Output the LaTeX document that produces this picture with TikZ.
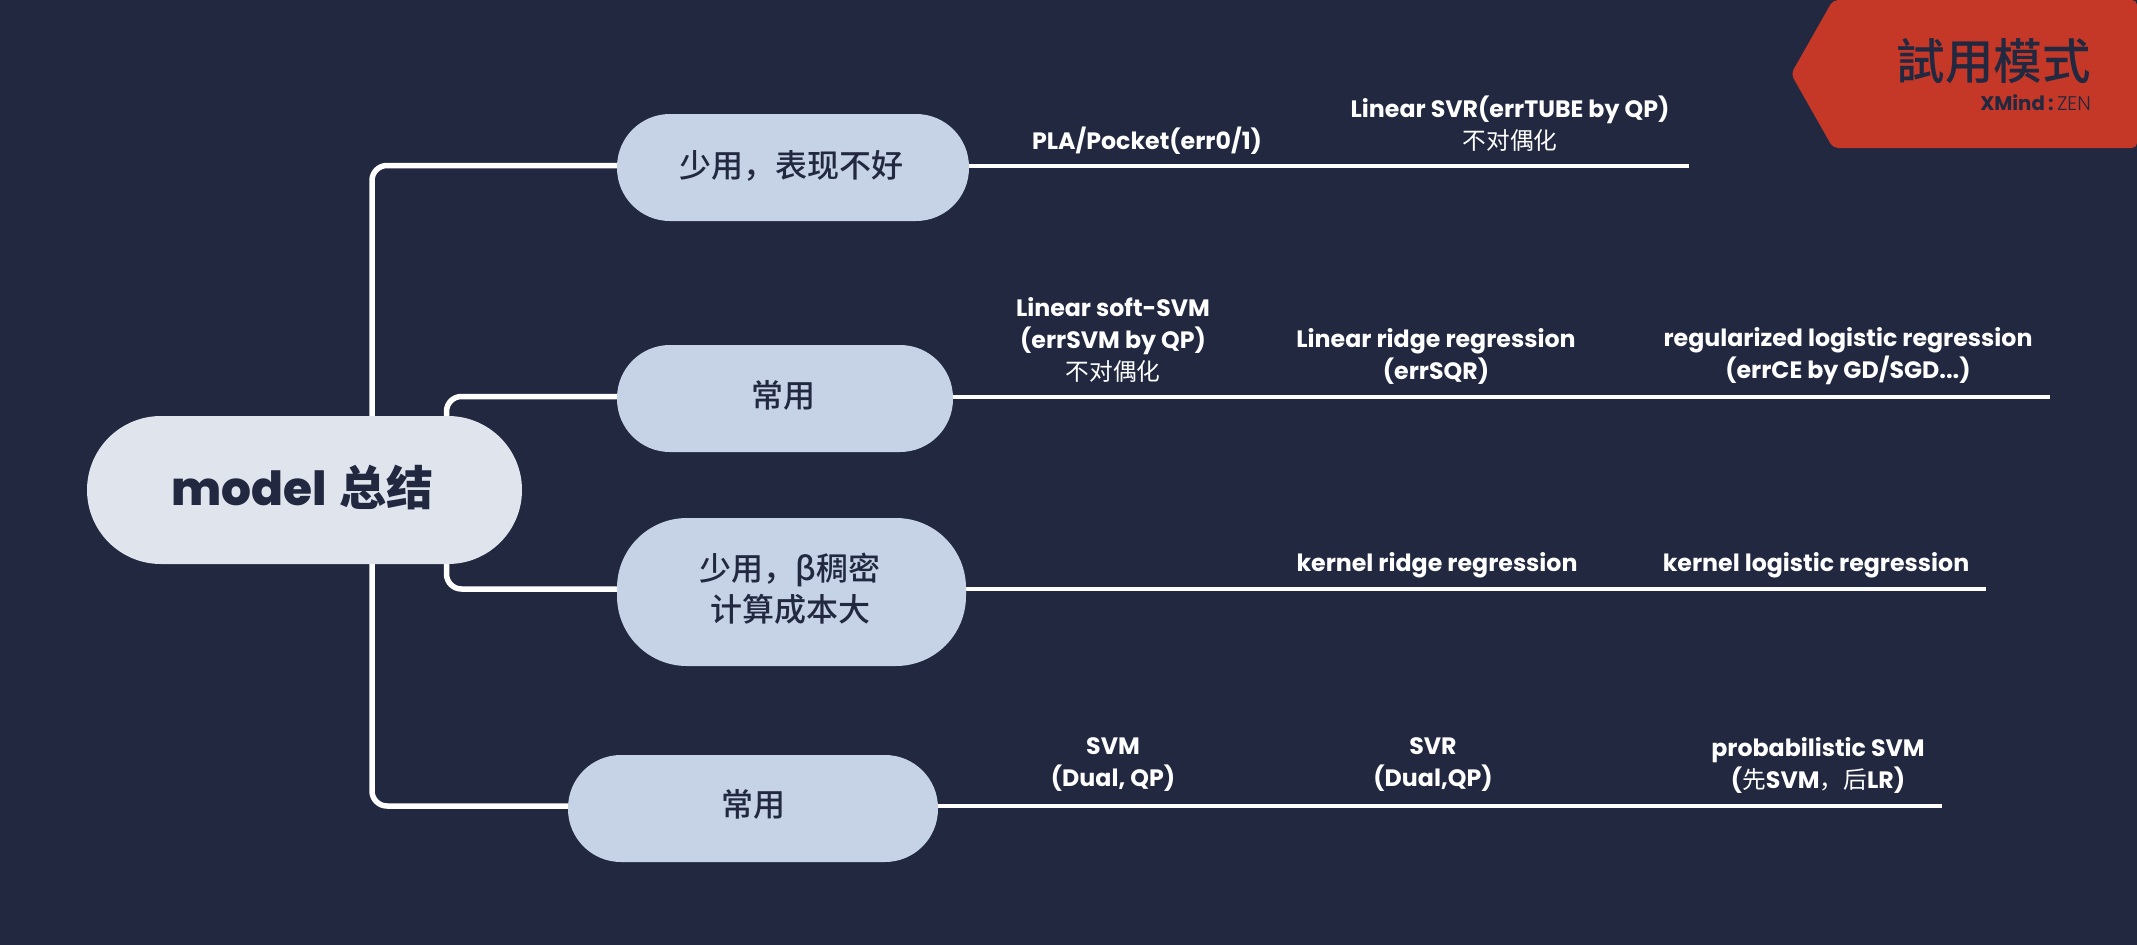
\documentclass[tikz,border=0pt]{standalone}
\usepackage{fontspec}
\setmainfont{Poppins}
\newfontfamily\cjk{Noto Sans CJK SC}
\newfontfamily\cjkm{Noto Sans CJK SC Medium}
\newfontfamily\cjktc{Noto Sans CJK TC Medium}
\newfontfamily\poplight{Poppins Light}
\newfontfamily\popxb{Poppins ExtraBold}
\definecolor{bgc}{HTML}{212840}
\definecolor{rootc}{HTML}{E0E5ED}
\definecolor{topicc}{HTML}{C6D2E5}
\definecolor{badgec}{HTML}{C53828}
\tikzset{
  rootbox/.style={fill=rootc,text=bgc,rounded corners=74pt,inner sep=0pt,minimum width=435pt,minimum height=148pt,align=center},
  topicbox/.style={fill=topicc,text=bgc,inner sep=0pt,align=center},
  topictext/.style={text=bgc,inner sep=0pt,align=center,font=\fontsize{32}{41}\selectfont\cjkm},
  conn/.style={draw=white,line width=5.5pt,rounded corners=15pt},
  subline/.style={draw=white,line width=4pt},
  lab/.style={text=white,inner sep=0pt,align=center,font=\fontsize{23.7}{32}\selectfont\bfseries},
}
\newcommand{\zh}[1]{{\cjk\mdseries #1}}
\begin{document}
\begin{tikzpicture}[x=1pt,y=-1pt]
\useasboundingbox (0,0) rectangle (2137,945);
\fill[bgc] (0,0) rectangle (2137,945);
% badge
\fill[badgec,rounded corners=5pt] (1833,0) -- (2137,0) -- (2137,148) -- (1833,148) -- (1791,74) -- cycle;
\node[inner sep=0pt,anchor=east,text=bgc,font=\fontsize{48.5}{48}\selectfont\cjktc] (badge) at (2091,61) {試用模式};
\node[inner sep=0pt,anchor=east,text=bgc,font=\fontsize{19.7}{20}\selectfont] (brand) at (2091,103) {\textbf{XMind}\,\textbf{:}\,{\poplight ZEN}};
% root and topics
\node[rootbox] (root) at (304.5,490) {};
\node[text=bgc,inner sep=0pt,font=\fontsize{47}{50}\selectfont] (roott) at (302.5,487) {{\popxb model} {\cjk\bfseries 总结}};
\node[topicbox,rounded corners=53pt,minimum width=352pt,minimum height=107pt] (n1) at (793,167.5) {};
\node[topicbox,rounded corners=53pt,minimum width=336pt,minimum height=107pt] (n2) at (785,398.5) {};
\node[topicbox,rounded corners=70pt,minimum width=349pt,minimum height=148pt] (n3) at (791.5,592) {};
\node[topicbox,rounded corners=53pt,minimum width=370pt,minimum height=107pt] (n4) at (753,808.5) {};
\node[topictext] (n1t) at (791,165.5) {少用，表现不好};
\node[topictext] (n2t) at (783,395) {常用};
\node[topictext] (n3t) at (790,589) {少用，β稠密\\计算成本大};
\node[topictext] (n4t) at (753,804) {常用};
% connector ends
\coordinate (e1) at (1689,165.5);
\coordinate (e2) at (2050,396.5);
\coordinate (e3) at (1986,589);
\coordinate (e4) at (1942,806);
\coordinate (t1) at (372,0);
\coordinate (t2) at (446.5,0);
% connectors
\draw[conn] (t1 |- root.north) |- (n1.west |- e1);
\draw[conn] (t2 |- root.north) |- (n2.west |- e2);
\draw[conn] (t2 |- root.south) |- (n3.west |- e3);
\draw[conn] (t1 |- root.south) |- (n4.west |- e4);
\draw[subline] (n1.east |- e1) -- (e1);
\draw[subline] (n2.east |- e2) -- (e2);
\draw[subline] (n3.east |- e3) -- (e3);
\draw[subline] (n4.east |- e4) -- (e4);
% labels
\node[lab] (a1) at (1147,141) {PLA/Pocket(err0/1)};
\node[lab] (a2) at (1510,124) {Linear SVR(errTUBE by QP)\\\zh{不对偶化}};
\node[lab] (b1) at (1113,340) {Linear soft-SVM\\(errSVM by QP)\\\zh{不对偶化}};
\node[lab] (b2) at (1436,356) {Linear ridge regression\\(errSQR)};
\node[lab] (b3) at (1848,356) {regularized logistic regression\\(errCE by GD/SGD...)};
\node[lab] (c1) at (1437,565) {kernel ridge regression};
\node[lab] (c2) at (1816,565) {kernel logistic regression};
\node[lab] (d1) at (1113,765) {SVM\\(Dual, QP)};
\node[lab] (d2) at (1433,765) {SVR\\(Dual,QP)};
\node[lab] (d3) at (1818,765) {probabilistic SVM\\(\zh{先}SVM\zh{，后}LR)};
\end{tikzpicture}
\end{document}
